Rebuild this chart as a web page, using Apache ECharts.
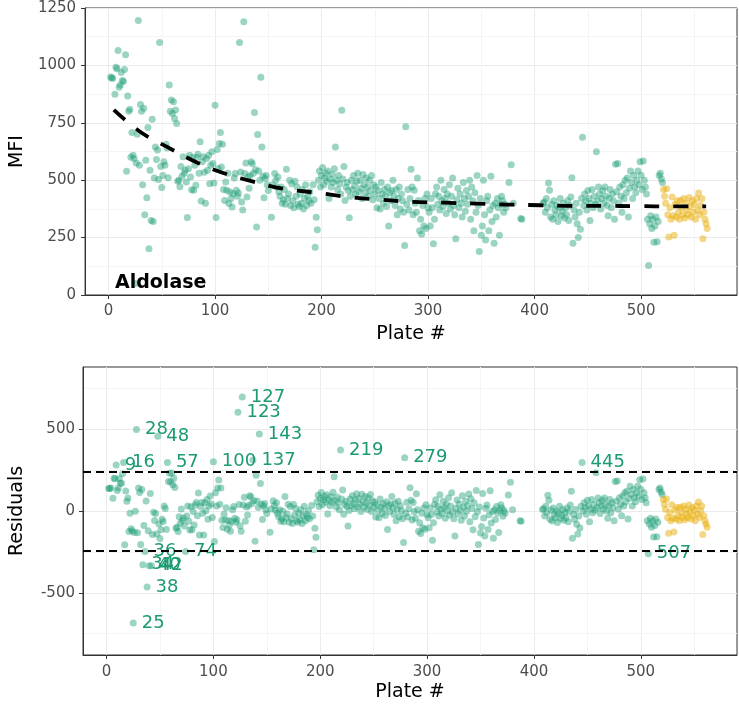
<!DOCTYPE html>
<html>
<head>
<meta charset="utf-8">
<script src="https://cdn.jsdelivr.net/npm/echarts@6/dist/echarts.min.js"></script>
<style>
html, body { margin: 0; padding: 0; background: #fff; }
#chart { width: 739px; height: 707px; }
</style>
</head>
<body>
<div id="chart"></div>
<script>
// one value per plate, first entry = plate 1, null = plate not measured
var mfiGreen = [
  null,950,945,944,null,874,992,985,1065,905,
  915,969,934,930,982,1046,539,867,800,809,
  600,708,609,594,50,575,700,1196,565,830,
  800,480,813,350,587,424,730,201,543,325,
  765,320,510,645,590,631,503,1100,560,468,
  520,580,565,657,640,511,915,800,849,790,
  842,769,806,747,495,500,471,560,517,602,
  530,543,492,337,550,609,514,458,600,456,
  565,478,600,613,530,667,409,580,602,535,
  400,594,543,609,485,565,624,573,488,826,
  337,634,551,660,708,558,657,459,412,492,
  456,530,398,449,420,383,441,510,529,456,
  430,444,1100,536,405,370,1190,529,575,427,
  514,465,521,580,572,530,795,545,296,699,
  540,500,948,645,517,424,507,520,480,455,
  null,null,339,480,null,529,500,470,514,450,
  430,470,400,415,460,395,548,420,440,500,
  390,485,410,380,495,430,470,395,385,440,
  400,460,375,420,480,390,430,410,450,400,
  null,480,415,208,339,284,500,540,470,520,
  555,480,510,530,495,540,420,505,470,525,
  490,550,645,500,460,520,485,440,805,505,
  560,412,470,490,455,336,430,500,460,520,
  475,440,495,530,450,500,465,420,525,480,
  445,510,470,430,500,455,520,415,480,440,
  470,380,455,420,375,490,440,400,460,430,
  385,470,300,445,410,455,500,430,390,460,
  350,420,470,375,440,410,360,216,733,395,
  460,370,420,548,470,350,456,400,360,510,
  412,280,330,265,390,300,420,290,440,380,
  360,300,420,380,223,330,441,470,395,430,
  370,500,410,385,460,420,355,440,400,480,
  375,430,510,390,350,245,415,465,380,440,
  400,340,490,420,365,455,395,430,500,330,
  470,410,280,445,360,520,390,190,420,260,
  300,500,350,240,410,430,280,370,517,320,
  390,225,400,340,420,380,260,395,430,410,
  360,395,380,null,null,490,null,567,null,400,
  null,null,null,null,null,null,333,330,null,null,
  null,null,null,null,null,null,null,null,null,null,
  null,null,null,null,null,null,null,400,405,360,
  420,380,488,456,340,395,330,410,370,350,
  390,320,380,420,345,365,400,335,380,350,
  410,325,390,427,511,225,370,340,400,310,
  250,360,286,420,687,390,440,410,370,455,
  420,325,400,460,380,430,395,624,410,470,
  440,375,420,455,400,470,430,390,345,420,
  460,380,440,410,330,570,450,573,400,470,
  430,360,480,420,500,445,510,340,465,540,
  490,420,520,470,445,500,540,480,580,522,
  460,584,500,470,440,330,128,310,345,290,
  330,230,300,340,232,320,520,530,505,490
];
var residGreen = [
  null,138,137,140,null,78,200,197,281,125,
  140,199,169,170,227,296,-206,122,60,79,
  -126,-14,-109,-120,-685,-131,-2,498,-133,140,
  113,-204,132,-328,-88,-248,61,-465,-120,-335,
  107,-335,-143,-8,-58,-15,-140,457,-79,-168,
  -114,-51,-64,31,16,-113,296,181,230,178,
  232,161,200,144,-106,-99,-126,-35,-75,12,
  -58,-43,-92,-247,-30,31,-62,-116,26,-114,
  -3,-85,37,52,-29,110,-146,28,52,-13,
  -146,51,2,70,-51,31,92,43,-39,301,
  -187,112,30,140,190,41,141,-57,-101,-20,
  -55,20,-112,-58,-86,-123,-63,8,28,-44,
  -69,-54,603,40,-90,-124,697,37,84,-63,
  25,-24,33,93,87,46,312,62,-185,219,
  61,22,471,168,41,-52,32,46,7,-16,
  null,null,-130,12,null,62,34,5,50,-14,
  -33,7,-62,-47,-1,-65,89,-39,-19,41,
  -69,27,-47,-77,40,-25,15,-59,-69,-13,
  -53,8,-76,-31,29,-60,-20,-39,2,-47,
  null,34,-30,-237,-105,-160,56,97,27,77,
  113,38,69,89,54,100,-18,67,32,87,
  53,114,209,64,25,86,51,7,373,73,
  129,-20,39,60,27,-92,3,73,33,93,
  48,14,69,105,25,76,41,-3,102,58,
  23,89,49,9,80,35,101,-3,62,23,
  53,-37,38,3,-42,74,24,-16,45,16,
  -28,57,-113,32,-3,43,88,19,-21,49,
  -60,10,60,-35,32,2,-48,-192,325,-13,
  53,-37,13,142,65,-55,52,-4,-44,106,
  8,-123,-72,-138,-13,-102,18,-112,38,-22,
  -42,-102,18,-22,-179,-72,40,69,-6,29,
  -31,100,10,-15,60,21,-44,41,1,81,
  -24,31,111,-8,-48,-153,17,67,-18,43,
  3,-57,93,23,-31,59,-1,34,104,-66,
  75,15,-115,50,-35,125,-5,-205,25,-135,
  -94,107,-43,-153,17,37,-113,-23,124,-73,
  -3,-167,8,-52,28,-12,-132,3,38,18,
  -32,3,-12,null,null,98,null,175,null,8,
  null,null,null,null,null,null,-59,-62,null,null,
  null,null,null,null,null,null,null,null,null,null,
  null,null,null,null,null,null,null,9,14,-31,
  29,-11,97,65,-51,4,-61,19,-21,-41,
  -1,-71,-11,29,-46,-26,9,-56,-11,-41,
  19,-66,-1,36,120,-166,-21,-51,9,-81,
  -141,-31,-104,29,297,0,50,20,-20,65,
  30,-65,10,70,-10,40,5,234,20,80,
  50,-15,30,65,10,80,40,0,-45,30,
  70,-10,50,20,-60,180,60,183,11,81,
  41,-29,91,31,111,56,121,-49,76,151,
  101,31,131,81,56,111,151,91,191,133,
  71,195,111,81,51,-59,-261,-79,-44,-99,
  -59,-159,-89,-49,-157,-69,131,141,116,101
];

// last batch of plates
var yellowFirstPlate = 521;
var mfiYellow = [460,430,400,463,350,253,380,330,427,345,260,395,340,410,360,330,412,380,350,420,
  335,400,370,350,425,385,340,410,360,395,330,420,370,444,350,390,420,245,360,330,310,290];
var residYellow = [71,41,11,74,-39,-136,-9,-59,38,-44,-129,6,-49,21,-29,-59,23,-9,-39,31,
  -54,11,-19,-39,36,-4,-49,21,-29,6,-59,31,-19,55,-39,1,31,-144,-29,-59,-79,-99];

// fitted trend (dashed)
var trendPlate = [5, 30, 57, 84, 110, 135, 165, 195, 225, 255, 285, 315, 345, 375, 405, 435, 465, 495, 530, 561];
var trendMfi = [806, 710, 640, 575, 528, 495, 462, 446, 427, 415, 406, 402, 398, 394, 391, 388, 388, 387, 386, 386];

var cutoff = 240;

var xTicks = [0, 100, 200, 300, 400, 500];
var xMinor = [50, 150, 250, 350, 450, 550];
var mfiTicks = [0, 250, 500, 750, 1000, 1250];
var mfiMinor = [125, 375, 625, 875, 1125];
var residTicks = [-500, 0, 500];
var residMinor = [-750, -250, 250, 750];

var font = 'DejaVu Sans';
var green = 'rgba(27,158,119,0.55)';
var yellow = 'rgba(230,171,2,0.6)';

function pairs(vals, first) {
  var out = [];
  vals.forEach(function (v, i) {
    if (v !== null) out.push([first + i, v]);
  });
  return out;
}

var residGreenData = pairs(residGreen, 1).map(function (d) {
  if (Math.abs(d[1]) > cutoff) return { value: d, label: { show: true } };
  return d;
});

function plain(v) { return String(v); }

function xAxisCfg(gi, nameGap, margin) {
  return {
    type: 'value', gridIndex: gi, min: -22, max: 590, splitNumber: 6,
    name: 'Plate #', nameLocation: 'middle', nameGap: nameGap,
    nameTextStyle: { color: '#000', fontSize: 19, fontFamily: font },
    axisLine: { show: true, onZero: false, lineStyle: { color: '#333', width: 1 } },
    axisTick: { show: true, length: 4, customValues: xTicks, lineStyle: { color: '#333' } },
    axisLabel: { customValues: xTicks, formatter: plain, color: '#4d4d4d', fontSize: 15, fontFamily: font, margin: margin },
    splitLine: { show: true, lineStyle: { color: '#ebebeb', width: 1 } }
  };
}

function yAxisCfg(gi, name, nameGap, margin, extra) {
  var cfg = {
    type: 'value', gridIndex: gi,
    name: name, nameLocation: 'middle', nameGap: nameGap, nameRotate: 90,
    nameTextStyle: { color: '#000', fontSize: 19, fontFamily: font },
    axisLine: { show: true, onZero: false, lineStyle: { color: '#333', width: 1 } },
    axisTick: { show: true, length: 4, lineStyle: { color: '#333' } },
    axisLabel: { formatter: plain, color: '#4d4d4d', fontSize: 15, fontFamily: font, margin: margin },
    splitLine: { show: true, lineStyle: { color: '#ebebeb', width: 1 } }
  };
  for (var k in extra) cfg[k] = extra[k];
  return cfg;
}

// lighter minor grid, kept under the points
function minorGrid(gi, xs, ys) {
  return {
    type: 'scatter', xAxisIndex: gi, yAxisIndex: gi, data: [], silent: true, z: 0,
    markLine: {
      silent: true, symbol: 'none', animation: false, z: 0,
      label: { show: false },
      lineStyle: { color: '#f4f4f4', width: 1, type: 'solid' },
      data: xs.map(function (v) { return { xAxis: v }; })
        .concat(ys.map(function (v) { return { yAxis: v }; }))
    }
  };
}

var mfiY = yAxisCfg(0, 'MFI', 58, 9, { min: 0, max: 1250, interval: 250 });
var residY = yAxisCfg(1, 'Residuals', 56, 8, { min: -880, max: 880, splitNumber: 3 });
residY.axisTick.customValues = residTicks;
residY.axisLabel.customValues = residTicks;

var option = {
  backgroundColor: '#fff',
  animation: false,
  grid: [
    { left: 85, top: 8, right: 2, height: 287, show: true, borderColor: '#333', borderWidth: 1 },
    { left: 81, top: 367, right: 2, height: 288, show: true, borderColor: '#333', borderWidth: 1 }
  ],
  xAxis: [xAxisCfg(0, 30, 9), xAxisCfg(1, 28, 10)],
  yAxis: [mfiY, residY],
  graphic: [{
    type: 'text', left: 115, top: 274, z: 100,
    style: { text: 'Aldolase', fill: '#000', font: 'bold 19px "DejaVu Sans"' }
  }],
  series: [
    minorGrid(0, xMinor, mfiMinor),
    minorGrid(1, xMinor, residMinor),
    {
      type: 'scatter', xAxisIndex: 0, yAxisIndex: 0, symbolSize: 7, z: 3,
      itemStyle: { color: green }, data: pairs(mfiGreen, 1)
    },
    {
      type: 'scatter', xAxisIndex: 0, yAxisIndex: 0, symbolSize: 7, z: 3,
      itemStyle: { color: yellow }, data: pairs(mfiYellow, yellowFirstPlate)
    },
    {
      type: 'line', xAxisIndex: 0, yAxisIndex: 0, symbol: 'none', smooth: 0.4, z: 4,
      lineStyle: { color: '#000', width: 3.8, type: [15, 14] },
      data: trendPlate.map(function (p, i) { return [p, trendMfi[i]]; })
    },
    {
      type: 'scatter', xAxisIndex: 1, yAxisIndex: 1, symbolSize: 7, z: 3,
      itemStyle: { color: green },
      label: {
        show: false, position: 'right', distance: 5, opacity: 1,
        color: '#1b9a74', textBorderWidth: 0, fontSize: 18, fontFamily: font,
        formatter: function (p) { return p.value[0]; }
      },
      data: residGreenData,
      markLine: {
        silent: true, symbol: 'none', animation: false, z: 6,
        label: { show: false },
        lineStyle: { color: '#000', width: 2, type: [8, 5] },
        data: [{ yAxis: cutoff }, { yAxis: -cutoff }]
      }
    },
    {
      type: 'scatter', xAxisIndex: 1, yAxisIndex: 1, symbolSize: 7, z: 3,
      itemStyle: { color: yellow }, data: pairs(residYellow, yellowFirstPlate)
    }
  ]
};

var myChart = echarts.init(document.getElementById('chart'));
myChart.setOption(option);
</script>
</body>
</html>
